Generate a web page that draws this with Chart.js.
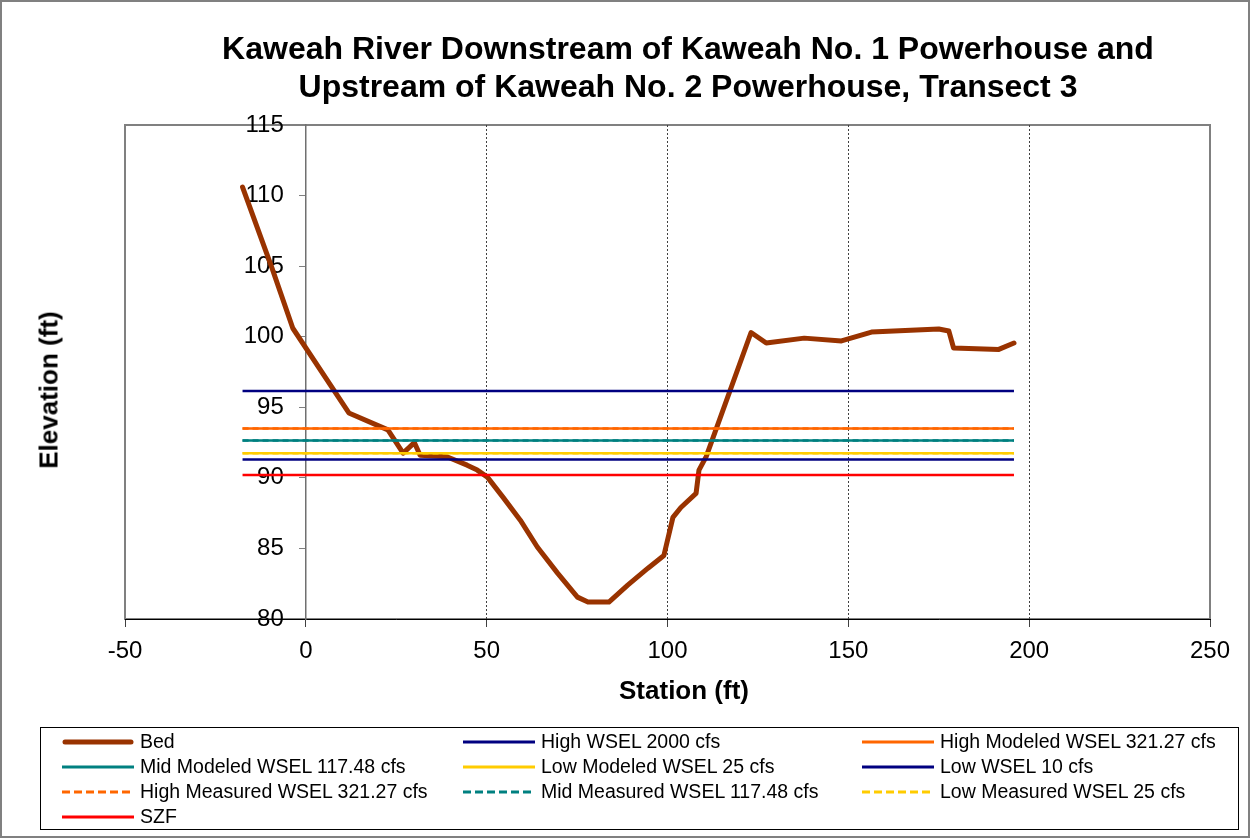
<!DOCTYPE html>
<html>
<head>
<meta charset="utf-8">
<script src="https://cdn.jsdelivr.net/npm/chart.js@4"></script>
<style>
  html, body { margin: 0; padding: 0; background: #fff; }
  body { width: 1250px; height: 838px; position: relative; overflow: hidden; font-family: "Liberation Sans", Arial, sans-serif; }
  #frame { position: absolute; left: 0; top: 0; width: 1246px; height: 834px; border: 2px solid #808080; pointer-events: none; }
  #c { position: absolute; left: 0; top: 0; }
  .title { position: absolute; left: 688px; transform: translateX(-50%); white-space: nowrap; font-weight: bold; font-size: 32px; color: #000; line-height: 38px; }
  #ytitle { position: absolute; left: 49px; top: 390px; transform: translate(-50%, -50%) rotate(-90deg); white-space: nowrap; font-weight: bold; font-size: 26px; }
  #xtitle { position: absolute; left: 684px; top: 690px; transform: translate(-50%, -50%); white-space: nowrap; font-weight: bold; font-size: 26px; }
  #legend { position: absolute; left: 40px; top: 727px; width: 1199px; height: 103px; border: 1px solid #000; box-sizing: border-box; }
  .li { position: absolute; height: 25px; display: flex; align-items: center; font-size: 19.5px; color: #000; white-space: nowrap; }
  .li svg { margin-right: 6px; }
</style>
</head>
<body>
<canvas id="c" width="1250" height="838"></canvas>
<div class="title" style="top:29px">Kaweah River Downstream of Kaweah No. 1 Powerhouse and</div>
<div class="title" style="top:67px">Upstream of Kaweah No. 2 Powerhouse, Transect 3</div>
<div id="ytitle">Elevation (ft)</div>
<div id="xtitle">Station (ft)</div>
<div id="legend"></div>
<div id="frame"></div>
<script>
// ---- Data ----
const bedStation = [-17.5, -9.4, -3.6, 11.9, 22.7, 26.9, 30.0, 31.6, 39.0, 44.6, 47.4, 50.2, 54.6, 59.3, 64.0, 69.6, 75.1, 78.0, 83.8, 89.0, 94.6, 99.0, 101.5, 103.7, 107.9, 108.7, 110.7, 123.1, 127.3, 137.8, 148.1, 156.4, 175.0, 177.8, 179.1, 191.6, 195.8];
const bedElevation = [110.6, 104.9, 100.6, 94.6, 93.4, 91.75, 92.5, 91.6, 91.5, 90.9, 90.55, 90.05, 88.6, 87.0, 85.1, 83.25, 81.55, 81.2, 81.2, 82.4, 83.6, 84.5, 87.2, 87.9, 88.9, 90.55, 91.5, 100.3, 99.55, 99.9, 99.7, 100.33, 100.55, 100.4, 99.2, 99.1, 99.55];

const wselStations = [-17.5, 195.8];
const highWsel2000 = 96.15;
const highModeled321 = 93.5;
const midModeled117 = 92.65;
const lowModeled25 = 91.75;
const lowWsel10 = 91.3;
const highMeasured321 = 93.5;
const midMeasured117 = 92.65;
const lowMeasured25 = 91.75;
const szf = 90.2;

const xTicks = [-50, 0, 50, 100, 150, 200, 250];
const yTicks = [80, 85, 90, 95, 100, 105, 110, 115];

// ---- Series definitions (legend order) ----
const seriesLabels = ["Bed", "High WSEL 2000 cfs", "High Modeled WSEL 321.27 cfs", "Mid Modeled WSEL 117.48 cfs", "Low Modeled WSEL 25 cfs", "Low WSEL 10 cfs", "High Measured WSEL 321.27 cfs", "Mid Measured WSEL 117.48 cfs", "Low Measured WSEL 25 cfs", "SZF"];
const seriesLevels = [null, highWsel2000, highModeled321, midModeled117, lowModeled25, lowWsel10, highMeasured321, midMeasured117, lowMeasured25, szf];
const seriesColors = ["#993300", "#000080", "#FF6600", "#008080", "#FFCC00", "#000080", "#FF6600", "#008080", "#FFCC00", "#FF0000"];
const seriesDashed = [false, false, false, false, false, false, true, true, true, false];

const datasets = seriesLabels.map((label, i) => {
  let data;
  if (i === 0) data = bedStation.map((s, k) => ({x: s, y: bedElevation[k]}));
  else data = wselStations.map(s => ({x: s, y: seriesLevels[i]}));
  return {
    label,
    data,
    borderColor: seriesColors[i],
    backgroundColor: seriesColors[i],
    borderWidth: i === 0 ? 5 : 2.5,
    borderDash: seriesDashed[i] ? [6, 4] : [],
    borderCapStyle: i === 0 ? 'round' : 'butt',
    borderJoinStyle: 'round',
    pointRadius: 0,
    tension: 0,
    fill: false,
    order: i === 0 ? 10 : (seriesDashed[i] ? 0 : 1)
  };
});

const plotFrame = {
  id: 'plotFrame',
  beforeDraw(chart) {
    const {ctx, chartArea: a} = chart;
    ctx.save();
    ctx.strokeStyle = '#808080';
    ctx.lineWidth = 2;
    ctx.strokeRect(a.left, a.top, a.right - a.left, a.bottom - a.top);
    ctx.restore();
  }
};

const FONT = "'Liberation Sans', Arial, sans-serif";

const chart = new Chart(document.getElementById('c'), {
  type: 'line',
  data: { datasets },
  plugins: [plotFrame],
  options: {
    responsive: false,
    animation: false,
    devicePixelRatio: 1,
    layout: { padding: { left: 125, right: 40, top: 125, bottom: 179 } },
    plugins: { legend: { display: false }, title: { display: false }, tooltip: { enabled: false } },
    scales: {
      x: {
        type: 'linear',
        min: xTicks[0], max: xTicks[xTicks.length - 1],
        afterBuildTicks: (s) => { s.ticks = xTicks.map(v => ({value: v})); },
        afterFit: (s) => { s.height = 40; },
        ticks: { font: { family: FONT, size: 24 }, color: '#000', padding: 10, maxRotation: 0 },
        grid: {
          color: (c) => (c.tick && c.tick.value > 0 && c.tick.value < 250) ? '#404040' : 'rgba(0,0,0,0)',
          lineWidth: 1,
          tickColor: '#404040',
          tickLength: 8,
          drawTicks: true
        },
        border: { display: true, color: '#000', width: 1, dash: [2, 2] }
      },
      // vertical axis line and tick marks, crossing at station 0
      y: {
        type: 'linear',
        position: { x: 0 },
        min: yTicks[0], max: yTicks[yTicks.length - 1],
        afterBuildTicks: (s) => { s.ticks = yTicks.map(v => ({value: v})); },
        ticks: { display: false },
        grid: { drawOnChartArea: false, drawTicks: true, tickLength: 6, tickColor: '#808080' },
        border: { display: true, color: '#707070', width: 1.5 }
      },
      // tick labels, set just left of the crossing axis
      yLabels: {
        type: 'linear',
        axis: 'y',
        position: { x: -6.1 },
        min: yTicks[0], max: yTicks[yTicks.length - 1],
        afterBuildTicks: (s) => { s.ticks = yTicks.map(v => ({value: v})); },
        ticks: { font: { family: FONT, size: 24 }, color: '#000', padding: 0 },
        grid: { display: false, drawTicks: false },
        border: { display: false }
      }
    }
  }
});

// ---- HTML legend built from the chart's datasets ----
const legendEl = document.getElementById('legend');
const colX = [21, 422, 821];
chart.data.datasets.forEach((ds, i) => {
  const col = i % 3, row = Math.floor(i / 3);
  const item = document.createElement('div');
  item.className = 'li';
  item.style.left = colX[col] + 'px';
  item.style.top = (1 + row * 25) + 'px';
  const w = ds.borderWidth >= 5 ? 5 : 3;
  const dash = (ds.borderDash && ds.borderDash.length) ? ' stroke-dasharray="8,4"' : '';
  const cap = ds.borderWidth >= 5 ? 'round' : 'butt';
  item.innerHTML = '<svg width="72" height="10"><line x1="' + (cap === 'round' ? 3 : 0) + '" y1="5" x2="' + (cap === 'round' ? 69 : 72) + '" y2="5" stroke="' + ds.borderColor + '" stroke-width="' + w + '" stroke-linecap="' + cap + '"' + dash + '/></svg>';
  const t = document.createElement('span');
  t.textContent = ds.label;
  item.appendChild(t);
  legendEl.appendChild(item);
});
</script>
</body>
</html>
